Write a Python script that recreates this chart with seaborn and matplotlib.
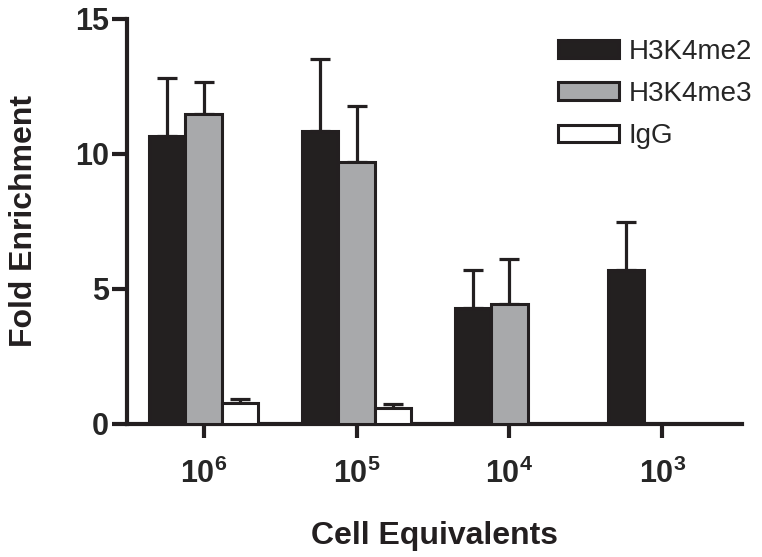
import matplotlib

matplotlib.use("Agg")

import numpy as np
import pandas as pd
import matplotlib.pyplot as plt
import seaborn as sns

# data
cells = ["1e6", "1e5", "1e4", "1e3"]
cell_labels = [r"$\mathbf{10^{6}}$", r"$\mathbf{10^{5}}$", r"$\mathbf{10^{4}}$", r"$\mathbf{10^{3}}$"]
marks = ["H3K4me2", "H3K4me3", "IgG"]
h3k4me2 = [10.67, 10.85, 4.30, 5.70]
h3k4me3 = [11.48, 9.70, 4.44, np.nan]
igg = [0.78, 0.59, np.nan, np.nan]
h3k4me2_err = [2.14, 2.65, 1.40, 1.78]
h3k4me3_err = [1.19, 2.08, 1.67, np.nan]
igg_err = [0.13, 0.15, np.nan, np.nan]

colors = ["#231f20", "#a7a9ac", "#ffffff"]
ink = "#231f20"

rows = []
for mark, vals, errs in zip(marks, [h3k4me2, h3k4me3, igg], [h3k4me2_err, h3k4me3_err, igg_err]):
    for c, v, e in zip(cells, vals, errs):
        if not np.isnan(v):
            rows.append({"cells": c, "mark": mark, "fold": v, "err": e})
df = pd.DataFrame(rows)

sns.set_style("ticks")
plt.rcParams["font.family"] = ["Liberation Sans", "DejaVu Sans"]
plt.rcParams["mathtext.fontset"] = "custom"
plt.rcParams["mathtext.rm"] = "Liberation Sans"
plt.rcParams["mathtext.bf"] = "Liberation Sans:bold"

fig = plt.figure(figsize=(7.62, 5.57), dpi=100)
ax = fig.add_axes([0.1667, 0.2388, 0.8071, 0.7271])

sns.barplot(data=df, x="cells", y="fold", hue="mark", order=cells, hue_order=marks,
            palette=colors, width=0.71, edgecolor=ink, linewidth=2.2,
            errorbar=None, ax=ax, zorder=3)

# one-sided error bars (upward only)
for cont, mark in zip(ax.containers, marks):
    for bar in cont:
        h = bar.get_height()
        if np.isnan(h):
            continue
        xc = bar.get_x() + bar.get_width() / 2
        idx = int(round(xc))
        e = df[(df.cells == cells[idx]) & (df.mark == mark)]["err"].iloc[0]
        ax.errorbar(xc, h, yerr=[[0], [e]], color=ink, elinewidth=2.3,
                    capsize=7.5, capthick=2.3, zorder=2)

ax.set_ylim(0, 15)
ax.set_xlim(-0.5, 3.52)
ax.set_yticks([0, 5, 10, 15])
ax.set_xticks(range(len(cells)))
ax.set_xticklabels(cell_labels)

sns.despine(ax=ax)
for s in ["left", "bottom"]:
    ax.spines[s].set_linewidth(3)
    ax.spines[s].set_color(ink)

ax.tick_params(axis="y", length=11, width=3, color=ink, pad=2, labelsize=22)
ax.tick_params(axis="x", length=10, width=3, color=ink, pad=15, labelsize=22)
for lab in ax.get_yticklabels():
    lab.set_fontweight("bold")

ax.set_xlabel("Cell Equivalents", fontsize=23, fontweight="bold", labelpad=22, color=ink)
ax.set_ylabel("Fold Enrichment", fontsize=23, fontweight="bold", labelpad=26, color=ink)

handles, labels = ax.get_legend_handles_labels()
ax.legend(handles, labels, loc="upper right", bbox_to_anchor=(1.013, 0.965),
          bbox_transform=fig.transFigure, frameon=False, fontsize=20,
          handlelength=2.2, handleheight=0.6, handletextpad=0.35,
          labelspacing=0.58, borderpad=0.2)

fig.savefig("out.png", dpi=100)
